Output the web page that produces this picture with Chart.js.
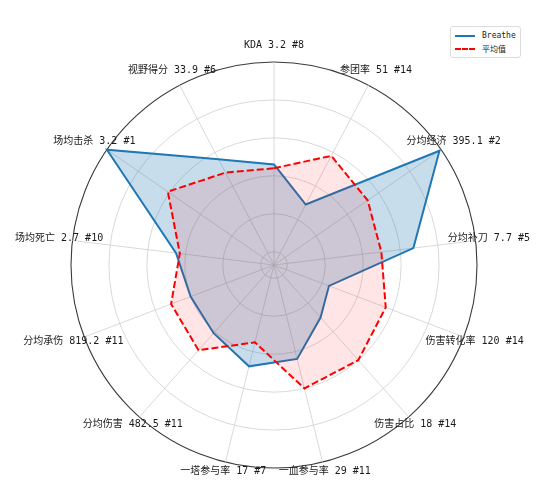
<!DOCTYPE html>
<html>
<head>
<meta charset="utf-8">
<script src="https://cdn.jsdelivr.net/npm/chart.js@4/dist/chart.umd.min.js"></script>
<style>
  body { margin: 0; background: #fff; }
  #wrap { position: relative; width: 540px; height: 481px; }
  #legend {
    position: absolute; left: 450px; top: 26px;
    padding: 2px 4px; background: #fff;
    border: 1px solid #dcdcdc; border-radius: 3px;
    font: 8px "DejaVu Sans Mono", "Noto Sans CJK SC", monospace; color: #222;
  }
  #legend .row { display: flex; align-items: center; height: 13px; }
  #legend .swatch { width: 20px; margin-right: 7px; border-top-width: 2px; }
</style>
</head>
<body>
<div id="wrap">
  <canvas id="radar" width="540" height="481"></canvas>
  <div id="legend"></div>
</div>
<script>
var axisLabels = [
  "KDA 3.2 #8", "参团率 51 #14", "分均经济 395.1 #2", "分均补刀 7.7 #5",
  "伤害转化率 120 #14", "伤害占比 18 #14", "一血参与率 29 #11", "一塔参与率 17 #7",
  "分均伤害 482.5 #11", "分均承伤 819.2 #11", "场均死亡 2.7 #10", "场均击杀 3.2 #1",
  "视野得分 33.9 #6"
];
var breatheValues = [0.46, 0.29, 0.99, 0.67, 0.24, 0.30, 0.44, 0.48, 0.41, 0.40, 0.45, 1.0, 0.56];
var averageValues = [0.44, 0.58, 0.53, 0.50, 0.56, 0.60, 0.60, 0.35, 0.53, 0.51, 0.43, 0.61, 0.48];
var seriesNames = ["Breathe", "平均值"];
var ringTicks = [0, 0.2, 0.4, 0.6, 0.8, 1.0];

// matplotlib-style labels: centred text just outside the rim
var axisLabelPlugin = {
  id: "axisLabels",
  afterDraw: function (chart) {
    var r = chart.scales.r;
    var ctx = chart.ctx;
    ctx.save();
    ctx.font = '10px "DejaVu Sans Mono", "Noto Sans CJK SC"';
    ctx.fillStyle = "#1a1a1a";
    ctx.textAlign = "center";
    ctx.textBaseline = "middle";
    axisLabels.forEach(function (txt, i) {
      var a = r.getIndexAngle(i);
      var p = r.getPointPosition(i, r.drawingArea + 13 + 4 * Math.cos(a));
      ctx.fillText(txt, p.x, p.y);
    });
    ctx.restore();
  }
};

var chart = new Chart(document.getElementById("radar").getContext("2d"), {
  type: "radar",
  data: {
    labels: axisLabels,
    datasets: [{
      label: seriesNames[0],
      data: breatheValues,
      borderColor: "#1f77b4",
      backgroundColor: "rgba(31,119,180,0.25)",
      borderWidth: 2,
      pointRadius: 0,
      fill: "start",
      order: 1
    }, {
      label: seriesNames[1],
      data: averageValues,
      borderColor: "#ff0000",
      borderDash: [7, 3],
      backgroundColor: "rgba(255,0,0,0.1)",
      borderWidth: 2,
      pointRadius: 0,
      fill: "start",
      order: 0
    }]
  },
  options: {
    responsive: false,
    animation: false,
    layout: { padding: { left: 71, right: 63, top: 62, bottom: 13 } },
    plugins: { legend: { display: false }, tooltip: { enabled: false } },
    elements: { line: { tension: 0 } },
    scales: {
      r: {
        min: -0.07,
        max: 1,
        afterBuildTicks: function (scale) {
          scale.ticks = ringTicks.map(function (v) { return { value: v }; });
        },
        ticks: { display: false },
        pointLabels: { display: false },
        grid: {
          circular: true,
          color: function (c) { return c.tick && c.tick.value === 1 ? "#3a3a3a" : "#cfcfcf"; },
          lineWidth: function (c) { return c.tick && c.tick.value === 1 ? 1.1 : 0.8; }
        },
        angleLines: { color: "#cfcfcf", lineWidth: 0.8 }
      }
    }
  },
  plugins: [axisLabelPlugin]
});

// legend box in the top right corner
var legend = document.getElementById("legend");
chart.data.datasets.forEach(function (ds) {
  var row = document.createElement("div");
  row.className = "row";
  var sw = document.createElement("span");
  sw.className = "swatch";
  sw.style.borderTopStyle = ds.borderDash ? "dashed" : "solid";
  sw.style.borderTopColor = ds.borderColor;
  var tx = document.createElement("span");
  tx.textContent = ds.label;
  row.appendChild(sw);
  row.appendChild(tx);
  legend.appendChild(row);
});
</script>
</body>
</html>
